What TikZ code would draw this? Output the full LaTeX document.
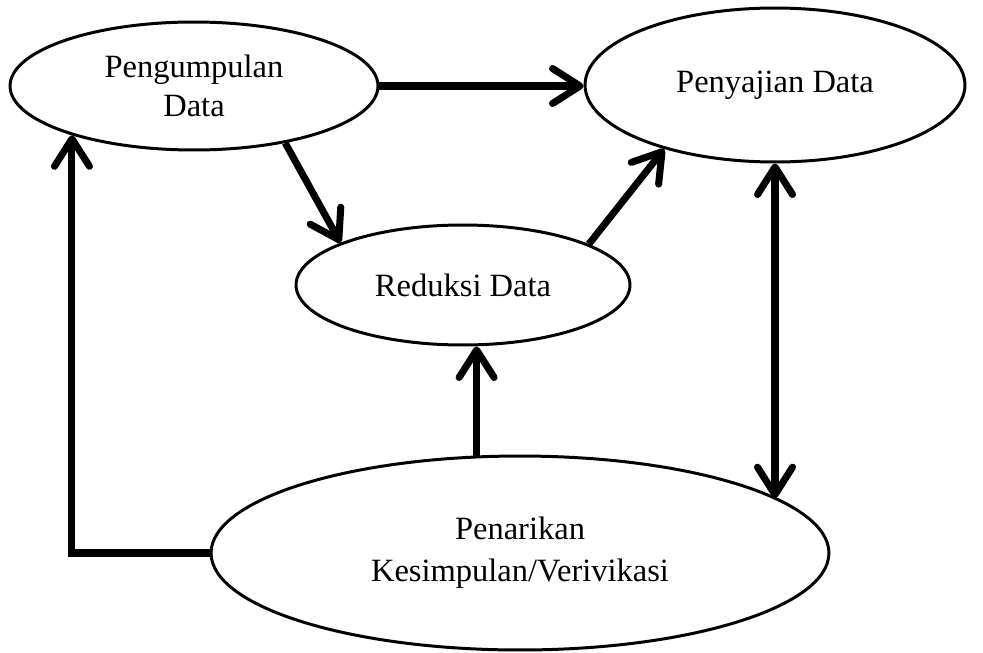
\documentclass[tikz,border=0pt]{standalone}
\usepackage{fontspec}
\setmainfont{Liberation Serif}
\usepackage{tikz}
\usetikzlibrary{arrows.meta,shapes.geometric,positioning}
\tikzset{
  oval/.style={draw, ellipse, line width=1.7pt, inner sep=0pt, align=center,
               font=\fontsize{18.5}{22}\selectfont},
  flow/.style={-{Straight Barb[length=5.5mm,width=7mm,round]}, line width=4pt},
  flowboth/.style={{Straight Barb[length=5.5mm,width=7mm,round]}-{Straight Barb[length=5.5mm,width=7mm,round]},
                   line width=4pt}
}

\begin{document}
\begin{tikzpicture}[x=0.02cm, y=-0.02cm]
  \useasboundingbox (0,0) rectangle (983,652);
  % ovals
  \node[oval, minimum width=7.36cm, minimum height=2.56cm] (collect) at (194,86) {Pengumpulan\\Data};
  \node[oval, minimum width=7.6cm, minimum height=3.08cm] (display) at (775,85) {Penyajian Data};
  \node[oval, minimum width=6.68cm, minimum height=2.4cm] (reduce) at (463,285) {Reduksi Data};
  \node[oval, minimum width=12.36cm, minimum height=3.88cm] (conclude) at (520,553)
       {Penarikan\\[2pt]Kesimpulan/Verivikasi};
  % connectors
  \draw[flow] (collect.east) -- (collect.east -| display.west);
  \draw[flow] (collect.-32) -- (reduce.161);
  \draw[flow] (reduce.18) -- (display.-150);
  \draw[flow] (conclude.114) -- (conclude.114 |- reduce.south);
  \draw[flowboth] (display.south) -- (display.south |- conclude.12);
  \draw[flow] (conclude.west) -| (collect.-158);
\end{tikzpicture}
\end{document}
